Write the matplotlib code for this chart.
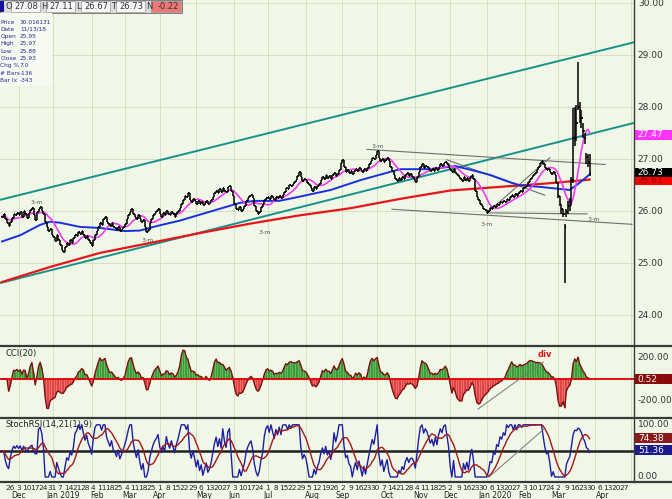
import numpy as np
import pandas as pd
import matplotlib
matplotlib.use('Agg')
import matplotlib.pyplot as plt
from matplotlib.patches import Rectangle
from matplotlib.lines import Line2D
from matplotlib.transforms import blended_transform_factory

# daily closes
nov18 = [25.90, 25.95, 25.85, 25.78, 25.72, 25.80, 25.88, 25.95, 25.92, 25.97]
dec18 = [25.93, 25.98, 25.90, 26.00, 25.95, 25.88, 25.97, 26.02, 26.06, 25.92, 25.84,
         25.98, 26.05, 26.08, 26.00, 25.95, 25.80, 25.70, 25.62, 25.66, 25.55]
jan19 = [25.50, 25.42, 25.55, 25.45, 25.35, 25.25, 25.22, 25.32, 25.40, 25.36, 25.44, 25.40,
         25.48, 25.55, 25.52, 25.60, 25.56, 25.62, 25.55, 25.48, 25.52, 25.44, 25.40]
feb19 = [25.33, 25.45, 25.55, 25.62, 25.70, 25.78, 25.74, 25.85, 25.90, 25.80,
         25.76, 25.72, 25.78, 25.70, 25.68, 25.64, 25.70, 25.62, 25.66, 25.70]
mar19 = [25.75, 25.85, 25.92, 25.98, 26.04, 25.95, 25.90, 25.86, 25.92, 25.85, 25.80,
         25.84, 25.70, 25.60, 25.65, 25.78, 25.85, 25.92, 25.97, 26.00, 26.05]
apr19 = [25.95, 25.90, 25.96, 25.92, 26.00, 25.95, 25.92, 25.98, 25.94, 25.90, 25.96,
         26.00, 26.06, 26.15, 26.22, 26.30, 26.28, 26.35, 26.22, 26.18, 26.24, 26.20]
may19 = [26.15, 26.20, 26.14, 26.18, 26.12, 26.16, 26.20, 26.15, 26.18, 26.22, 26.28, 26.35,
         26.40, 26.36, 26.42, 26.38, 26.44, 26.40, 26.38, 26.46, 26.48, 26.40, 26.30]
jun19 = [26.15, 26.05, 26.02, 26.08, 26.00, 26.05, 26.10, 26.20, 26.26, 26.30,
         26.32, 26.25, 26.10, 26.00, 25.94, 25.98, 26.08, 26.15, 26.22, 26.26]
jul19 = [26.28, 26.24, 26.30, 26.26, 26.22, 26.28, 26.25, 26.30, 26.26, 26.32, 26.38, 26.45,
         26.42, 26.50, 26.48, 26.52, 26.56, 26.60, 26.68, 26.76, 26.65, 26.58, 26.62]
aug19 = [26.60, 26.55, 26.50, 26.44, 26.40, 26.46, 26.42, 26.48, 26.52, 26.60, 26.66,
         26.62, 26.70, 26.64, 26.68, 26.62, 26.70, 26.74, 26.68, 26.72, 26.80, 26.92]
sep19 = [26.98, 26.85, 26.76, 26.80, 26.74, 26.78, 26.72, 26.78, 26.82, 26.78, 26.84,
         26.80, 26.76, 26.82, 26.78, 26.84, 26.90, 26.96, 27.02, 27.00, 27.08]
oct19 = [27.15, 27.02, 26.96, 27.00, 26.94, 26.98, 27.02, 26.96, 26.86, 26.78, 26.70, 26.62,
         26.58, 26.64, 26.60, 26.66, 26.62, 26.70, 26.74, 26.68, 26.72, 26.66, 26.62]
nov19 = [26.56, 26.65, 26.76, 26.86, 26.90, 26.84, 26.88, 26.86, 26.82, 26.78, 26.82,
         26.78, 26.84, 26.80, 26.86, 26.90, 26.88, 26.92, 26.95, 26.90, 26.84]
dec19 = [26.80, 26.76, 26.82, 26.74, 26.70, 26.66, 26.62, 26.58, 26.65, 26.60, 26.64,
         26.58, 26.66, 26.70, 26.62, 26.40, 26.28, 26.22, 26.15, 26.10, 26.05, 26.02]
jan20 = [25.97, 26.00, 26.06, 26.04, 26.10, 26.08, 26.14, 26.12, 26.18, 26.16, 26.20, 26.18,
         26.24, 26.22, 26.28, 26.32, 26.28, 26.34, 26.30, 26.36, 26.40, 26.38, 26.44]
feb20 = [26.46, 26.50, 26.56, 26.62, 26.66, 26.70, 26.74, 26.80, 26.86, 26.92,
         26.96, 26.90, 26.84, 26.80, 26.82, 26.76, 26.72, 26.76, 26.70, 26.55]
mar20 = [26.30, 26.15, 26.05, 25.95, 25.70, 25.98, 26.10, 26.20, 26.60, 27.40,
         27.95, 27.70, 28.00, 27.95, 27.80, 27.55, 27.40, 27.05, 26.95, 26.73]
# the wide March bars
mar20_high = [26.55, 26.30, 26.15, 26.05, 25.75, 26.05, 26.20, 26.25, 26.65, 27.98,
              28.00, 28.05, 28.88, 28.10, 27.95, 27.70, 27.50, 27.12, 27.10, 27.11]
mar20_low = [26.25, 26.10, 25.95, 25.90, 24.62, 25.90, 25.95, 26.00, 26.10, 26.55,
             27.25, 27.35, 27.95, 27.70, 27.60, 27.40, 27.30, 26.90, 26.85, 26.67]

# moving averages read at a few bars (bar index, price)
blue_idx = [0, 11, 23, 29, 35, 47, 59, 74, 83, 95, 107, 125, 143, 152, 167, 179, 198,
            216, 234, 240, 258, 273, 282, 294, 306, 312, 324, 333, 342, 348, 354]
blue_val = [25.42, 25.54, 25.74, 25.80, 25.78, 25.70, 25.68, 25.62, 25.63, 25.73, 25.82,
            25.99, 26.16, 26.20, 26.20, 26.28, 26.41, 26.60, 26.76, 26.81, 26.81, 26.87,
            26.80, 26.70, 26.56, 26.50, 26.47, 26.44, 26.41, 26.55, 26.71]
red_idx = [0, 29, 59, 89, 119, 149, 179, 210, 240, 270, 300, 330, 354]
red_val = [24.64, 24.93, 25.20, 25.39, 25.58, 25.76, 25.92, 26.06, 26.24, 26.40,
           26.47, 26.54, 26.61]

# channel and trend lines (bar index, price)
channel_idx = [-1.2, 380.7]
channel_upper = [26.22, 29.25]
channel_lower = [24.62, 27.70]
trend_lines = [
    ([219.9, 363.3], [27.19, 26.90]),
    ([234.9, 379.5], [26.04, 25.75]),
    ([292.2, 352.4], [25.97, 25.95]),
    ([268.0, 327.0], [26.99, 26.31]),
    ([292.2, 330.0], [25.97, 27.03]),
]
swing_idx = [21, 88, 158.4, 226.5, 292, 356.6]
swing_val = [26.16, 25.43, 25.60, 27.24, 25.74, 25.84]

price_ticks = [24, 25, 26, 27, 28, 29, 30]

W, H = 672, 499
BG = '#F0F7E6'
GRID = '#D3E2C6'
XL = (-1.2, 380.7)

closes = (nov18 + dec18 + jan19 + feb19 + mar19 + apr19 + may19 + jun19 + jul19 +
          aug19 + sep19 + oct19 + nov19 + dec19 + jan20 + feb20 + mar20)
n = len(closes)
idx = np.arange(n)
dates = pd.bdate_range('2018-11-19', periods=382)

c = pd.Series(closes, dtype=float)
o = c.shift(1).fillna(c.iloc[0])
hi = np.maximum(o, c).values.copy()
lo = np.minimum(o, c).values.copy()
hi[-len(mar20):] = mar20_high
lo[-len(mar20):] = mar20_low
magenta = c.rolling(10, min_periods=1).mean()

# CCI(20)
tp = (pd.Series(hi) + pd.Series(lo) + c) / 3
sma = tp.rolling(20, min_periods=5).mean()
md = tp.rolling(20, min_periods=5).apply(lambda x: np.mean(np.abs(x - x.mean())), raw=True)
cci = ((tp - sma) / (0.015 * md)).fillna(0).clip(-360, 300)

# StochRSI(14,21,9)
d = c.diff().fillna(0)
gain = d.clip(lower=0).ewm(alpha=1/14, adjust=False).mean()
loss = (-d.clip(upper=0)).ewm(alpha=1/14, adjust=False).mean()
rsi = 100 - 100 / (1 + gain / loss.replace(0, 1e-9))
rmin = rsi.rolling(21, min_periods=3).min()
rmax = rsi.rolling(21, min_periods=3).max()
stoch = ((rsi - rmin) / (rmax - rmin).replace(0, np.nan) * 100).fillna(50)
signal = stoch.rolling(9, min_periods=1).mean()

fig = plt.figure(figsize=(W / 100, H / 100), dpi=100, facecolor=BG)


def fax(x0, y0, x1, y1):
    a = fig.add_axes([x0 / W, 1 - y1 / H, (x1 - x0) / W, (y1 - y0) / H])
    a.set_facecolor(BG)
    a.set_xlim(*XL)
    a.set_xticks([])
    a.set_yticks([])
    for s in a.spines.values():
        s.set_visible(False)
    return a


def tag(a, v, text, fc, tc, h):
    tr = blended_transform_factory(a.transAxes, a.transData)
    a.add_patch(Rectangle((1.0016, v - h / 2), 0.058, h, transform=tr, fc=fc, ec='none',
                          clip_on=False, zorder=5))
    a.text(1.006, v, text, transform=tr, color=tc, fontsize=6.5, va='center', ha='left',
           clip_on=False, zorder=6)


def axis_label(a, v, text):
    tr = blended_transform_factory(a.transAxes, a.transData)
    a.text(1.006, v, text, transform=tr, color='#333333', fontsize=6.5, va='center',
           ha='left', clip_on=False)


ax = fax(0, 0, 634, 346)
ax_cci = fax(0, 346, 634, 418)
ax_st = fax(0, 418, 634, 482)
ax.set_ylim(23.41, 30.063)
ax_cci.set_ylim(-371, 314)
ax_st.set_ylim(-9.6, 113)

# month grid lines
months = dates.to_period('M')
month_start = [i for i in range(1, len(dates)) if months[i] != months[i - 1]]
for a in (ax, ax_cci, ax_st):
    for m in month_start:
        a.axvline(m, color=GRID, lw=0.7, zorder=0)
for p in price_ticks:
    ax.axhline(p, color=GRID, lw=0.7, zorder=0)

# price panel
ax.plot(channel_idx, channel_upper, color='#17928A', lw=1.4, zorder=2)
ax.plot(channel_idx, channel_lower, color='#17928A', lw=1.4, zorder=2)
for tx, ty in trend_lines:
    ax.plot(tx, ty, color='#6E6E6E', lw=0.8, zorder=2)
ax.plot(red_idx, red_val, color='#E8141B', lw=1.6, zorder=3)
ax.plot(blue_idx, blue_val, color='#1C2FE0', lw=1.4, zorder=3)
ax.plot(idx, magenta, color='#F03CF0', lw=1.2, zorder=3)
ax.vlines(idx, lo, hi, color='black', lw=1.1, zorder=4)
ax.hlines(o, idx - 0.8, idx, color='black', lw=1.1, zorder=4)
ax.hlines(c, idx, idx + 0.8, color='black', lw=1.1, zorder=4)
for sx, sy in zip(swing_idx, swing_val):
    ax.text(sx, sy, '3-m', fontsize=4.5, color='#555555', ha='center', va='center')

for p in price_ticks:
    axis_label(ax, p, f'{p:.2f}')
tag(ax, 27.47, '27.47', '#FF33FF', 'white', 0.19)
tag(ax, 26.59, '26.61', '#FF0000', '#7A0000', 0.17)
tag(ax, 26.75, '26.73', 'black', 'white', 0.17)

# CCI panel
cv = cci.values
ax_cci.fill_between(idx, cv, 0, where=cv >= 0, color='#62BD5E', interpolate=True, lw=0)
ax_cci.fill_between(idx, cv, 0, where=cv < 0, color='#F26D6D', interpolate=True, lw=0)
ax_cci.vlines(idx[cv >= 0], 0, cv[cv >= 0], color='#2F8A2F', lw=0.5)
ax_cci.vlines(idx[cv < 0], cv[cv < 0], 0, color='#D43434', lw=0.5)
ax_cci.plot(idx, cv, color='#7A1010', lw=1.0)
ax_cci.axhline(0, color='#E00000', lw=1.3)
ax_cci.plot([286.7, 326.0], [-286, 162], color='#777777', lw=0.7)
ax_cci.text(327, 229, 'div', color='#E01010', fontsize=6, fontweight='bold', ha='center',
            va='center')
ax_cci.text(2, 290, 'CCI(20)', fontsize=6, color='#222222', va='top')
axis_label(ax_cci, 200, '200.00')
axis_label(ax_cci, -200, '-200.00')
tag(ax_cci, 0, '0.52', '#8B0A0A', 'white', 95)

# StochRSI panel
ax_st.axhline(50, color='#202020', lw=1.8)
ax_st.plot(idx, stoch, color='#1E1EA0', lw=1.0)
ax_st.plot(idx, signal, color='#A01818', lw=1.0)
ax_st.plot([293.4, 326.5], [0, 92], color='#777777', lw=0.7)
ax_st.text(2, 110, 'StochRSI(14,21(1),9)', fontsize=6, color='#222222', va='top')
axis_label(ax_st, 100, '100.00')
axis_label(ax_st, 0, '0.00')
tag(ax_st, 74.38, '74.38', '#8B1A1A', 'white', 19)
tag(ax_st, 51.36, '51.36', '#1A1A8B', 'white', 19)

# date axis
trx = blended_transform_factory(ax_st.transData, ax_st.transAxes)
for i, dt in enumerate(dates):
    if dt.weekday() == 0 and 3 <= i < XL[1] - 2:
        ax_st.text(i, -0.09, str(dt.day), transform=trx, fontsize=5.3, color='#222222',
                   ha='center', va='center', clip_on=False)
for m in month_start:
    if m < XL[1] - 4:
        dt = dates[m]
        first_mon = m + (7 - dt.weekday()) % 7
        lab = dt.strftime('%b') + (' ' + str(dt.year) if dt.month == 1 else '')
        ax_st.text(first_mon, -0.21, lab, transform=trx, fontsize=5.5, color='#222222',
                   ha='center', va='center', clip_on=False)

# panel frames
for yy in (346, 418, 482):
    fig.add_artist(Line2D([0, 1], [1 - yy / H] * 2, color='#3A3A3A', lw=1.6,
                          transform=fig.transFigure))
fig.add_artist(Line2D([634 / W] * 2, [1 - 482 / H, 1], color='#3A3A3A', lw=1.0,
                      transform=fig.transFigure))


def frect(x, y, w, h, fc, ec='none'):
    fig.add_artist(Rectangle((x / W, 1 - (y + h) / H), w / W, h / H, fc=fc, ec=ec, lw=0.5,
                             transform=fig.transFigure))


def ftext(x, y, s, **kw):
    fig.text(x / W, 1 - y / H, s, va='center', **kw)


# header strip
frect(0, 0, 182, 13, '#DADADA', '#555555')
frect(0, 1, 4, 11, '#12129A')
for x0, x1 in [(11, 40), (46, 75), (81, 110), (116, 145)]:
    frect(x0, 1, x1 - x0, 11, '#F7F7F7', '#9A9A9A')
frect(151, 1, 30, 11, '#F07575', '#9A9A9A')
head = [('O', 5, '27.08', 38), ('H', 41, '27.11', 73), ('L', 76, '26.67', 108),
        ('T', 111, '26.73', 143), ('N', 146, '-0.22', 179)]
for k, kx, val, vx in head:
    ftext(kx, 6.5, k, fontsize=6, color='#333333', ha='left')
    ftext(vx, 6.5, val, fontsize=6, color='#333333', ha='right')

# data window
frect(0, 13, 52, 73, '#F7FAF1')
info = [('Price', '30.016131'), ('Date', '11/13/18'), ('Open', '25.95'), ('High', '25.97'),
        ('Low', '25.88'), ('Close', '25.93'), ('Chg %', '7.0'), ('# Bars', '-136'),
        ('Bar Ix', '-343')]
for r, (k, val) in enumerate(info):
    yy = 22 + r * 7.3
    ftext(0.5, yy, k, fontsize=4.2, color='#2B2B8C', ha='left')
    ftext(20, yy, val, fontsize=4.2, color='#2B2B8C', ha='left')

fig.savefig('out.png', dpi=100, facecolor=BG)
